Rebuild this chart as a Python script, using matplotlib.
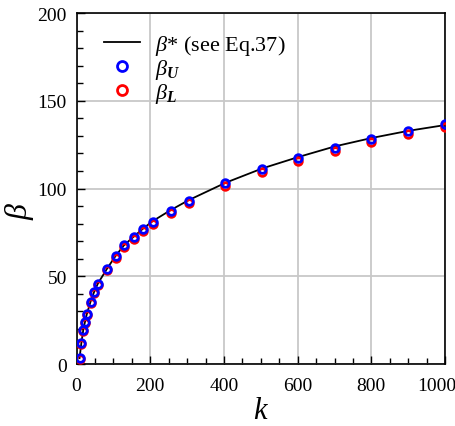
import numpy as np
import matplotlib
matplotlib.use("Agg")
import matplotlib.pyplot as plt
from matplotlib.ticker import MultipleLocator
from matplotlib.transforms import ScaledTranslation

plt.rcParams['font.family'] = 'Liberation Serif'
plt.rcParams['mathtext.fontset'] = 'custom'
plt.rcParams['mathtext.rm'] = 'Liberation Serif'
plt.rcParams['mathtext.it'] = 'Liberation Serif:italic'
plt.rcParams['mathtext.bf'] = 'Liberation Serif:italic:bold'

# data
k = [8, 13, 18, 23, 28, 38, 48, 58, 83, 106, 129, 156, 181, 206, 255, 304,
     404, 504, 602, 702, 800, 900, 1000]
beta_star = [3.4, 12.2, 19.3, 24.3, 28.7, 35.7, 41.4, 46.0, 54.5, 61.7, 67.8,
             72.8, 77.3, 81.4, 87.7, 93.4, 103.3, 111.5, 118.0, 124.1, 128.8,
             132.9, 136.2]
beta_U = [3.4, 12.2, 19.3, 24.2, 28.6, 35.6, 41.3, 45.7, 54.3, 61.5, 67.6,
          72.4, 77.0, 81.1, 87.3, 93.0, 103.3, 110.9, 117.5, 123.3, 128.4,
          132.6, 136.7]
beta_L = [2.9, 11.6, 18.7, 23.6, 27.9, 34.9, 40.5, 44.9, 53.4, 60.5, 66.6,
          71.4, 75.9, 80.0, 86.0, 91.7, 101.6, 109.2, 115.8, 121.6, 126.7,
          130.9, 135.0]
xticks = [0, 200, 400, 600, 800, 1000]
yticks = [0, 50, 100, 150, 200]

fig = plt.figure(figsize=(4.56, 4.27), dpi=100)
ax = fig.add_axes([0.168, 0.145, 0.808, 0.822])

line, = ax.plot(k, beta_star, '-', color='black', lw=1.3, zorder=3)
pL, = ax.plot(k, beta_L, 'o', mfc='none', mec='#ff0000', ms=5.5, mew=2.0, zorder=4)
pU, = ax.plot(k, beta_U, 'o', mfc='none', mec='#0000ff', ms=5.5, mew=2.0, zorder=5)

ax.set_xlim(0, 1000)
ax.set_ylim(0, 200)
ax.set_xticks(xticks, [str(v) for v in xticks])
ax.set_yticks(yticks, [str(v) for v in yticks])
ax.xaxis.set_minor_locator(MultipleLocator(50))
ax.yaxis.set_minor_locator(MultipleLocator(10))
ax.tick_params(which='both', direction='in', top=False, right=False,
               labelsize=14, width=1.0)
ax.tick_params(axis='x', pad=9)
ax.tick_params(axis='y', pad=7)
ax.tick_params(which='major', length=6)
ax.tick_params(which='minor', length=4)
ax.grid(True, which='major', color='#c8c8c8', lw=1.3)
ax.set_axisbelow(True)
for sp in ax.spines.values():
    sp.set_linewidth(1.2)

# last x label sits a bit left, as in the original
for lab in ax.get_xticklabels():
    if lab.get_text() == '1000':
        lab.set_transform(lab.get_transform() + ScaledTranslation(-8/100, 0, fig.dpi_scale_trans))

ax.set_xlabel(r'$k$', fontsize=22, labelpad=2)
ax.set_ylabel(r'$\beta$', fontsize=23)
ax.yaxis.set_label_coords(-0.11, 0.44)

leg = ax.legend([line, pU, pL],
                [r'$\beta$* (see Eq.37)', r'$\beta_{\mathbf{U}}$', r'$\beta_{\mathbf{L}}$'],
                loc='upper left', bbox_to_anchor=(0.02, 1.0), frameon=False,
                fontsize=16, handlelength=1.62, labelspacing=0.0, handletextpad=0.68,
                markerscale=1.3)

fig.savefig('out.png', dpi=100)
